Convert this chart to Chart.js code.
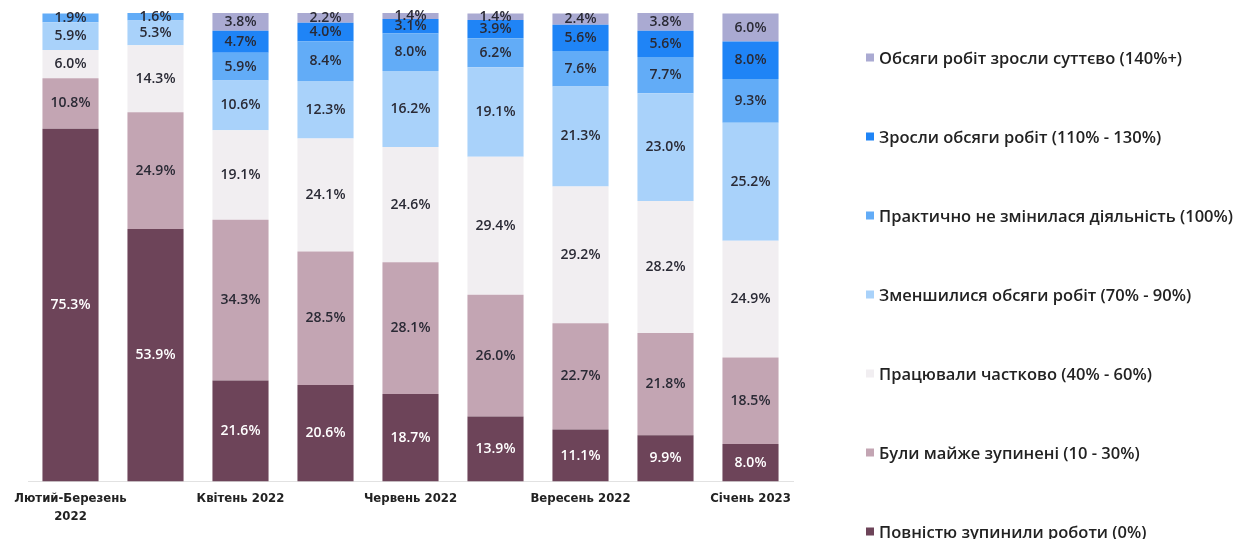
<!DOCTYPE html>
<html lang="uk">
<head>
<meta charset="utf-8">
<script src="https://cdn.jsdelivr.net/npm/chart.js@4.4.1/dist/chart.umd.min.js"></script>
<style>
  html, body { margin: 0; padding: 0; background: #fff; }
  #wrap { position: relative; width: 1239px; height: 539px; }
  #legend {
    position: absolute; left: 866px; top: 57px;
    font-family: "Open Sans", sans-serif; font-weight: 600; font-size: 16.5px; color: #222;
  }
  .item { position: absolute; left: 0; white-space: nowrap; transform: translateY(-50%); display: flex; align-items: center; }
  .sw { width: 8px; height: 8px; margin-right: 5px; display: inline-block; }
</style>
</head>
<body>
<div id="wrap">
  <canvas id="chart" width="1239" height="539"></canvas>
  <div id="legend"></div>
</div>
<script>
// Categories (only every other label is printed on the axis)
const categories = [
    ['Лютий-Березень', '2022'], 'Березень 2022', 'Квітень 2022', 'Травень 2022',
    'Червень 2022', 'Липень 2022', 'Вересень 2022', 'Листопад 2022', 'Січень 2023'
];

const seriesNames = [
    'Повністю зупинили роботи (0%)',
    'Були майже зупинені  (10 - 30%)',
    'Працювали частково (40% - 60%)',
    'Зменшилися обсяги робіт (70% - 90%)',
    'Практично не змінилася діяльність (100%)',
    'Зросли обсяги робіт (110% - 130%)',
    'Обсяги робіт зросли суттєво (140%+)'
];

const stopped   = [75.3, 53.9, 21.6, 20.6, 18.7, 13.9, 11.1, 9.9, 8.0];
const almost    = [10.8, 24.9, 34.3, 28.5, 28.1, 26.0, 22.7, 21.8, 18.5];
const partly    = [6.0, 14.3, 19.1, 24.1, 24.6, 29.4, 29.2, 28.2, 24.9];
const decreased = [5.9, 5.3, 10.6, 12.3, 16.2, 19.1, 21.3, 23.0, 25.2];
const unchanged = [1.9, 1.6, 5.9, 8.4, 8.0, 6.2, 7.6, 7.7, 9.3];
const grew      = [0, 0, 4.7, 4.0, 3.1, 3.9, 5.6, 5.6, 8.0];
const grewMuch  = [0, 0, 3.8, 2.2, 1.4, 1.4, 2.4, 3.8, 6.0];

const colors = ['#6d4459', '#c3a5b3', '#f1eef1', '#a9d2fa', '#62acf7', '#1f84f6', '#aaaad2'];
const series = [stopped, almost, partly, decreased, unchanged, grew, grewMuch];

const segmentLabels = {
    id: 'segmentLabels',
    afterDatasetsDraw(chart) {
        const ctx = chart.ctx;
        ctx.save();
        ctx.textAlign = 'center';
        ctx.textBaseline = 'middle';
        ctx.font = '600 14px "Open Sans", sans-serif';
        chart.data.datasets.forEach((ds, di) => {
            chart.getDatasetMeta(di).data.forEach((bar, i) => {
                const v = ds.data[i];
                if (!v) return;
                const p = bar.getProps(['x', 'y', 'base'], true);
                ctx.fillStyle = di === 0 ? '#ffffff' : '#2a2a35';
                ctx.fillText(v.toFixed(1) + '%', p.x, (p.y + p.base) / 2);
            });
        });
        ctx.restore();
    }
};

new Chart(document.getElementById('chart'), {
    type: 'bar',
    data: {
        labels: categories,
        datasets: series.map((d, i) => ({
            label: seriesNames[i],
            data: d,
            backgroundColor: colors[i],
            barPercentage: 0.66,
            categoryPercentage: 1
        }))
    },
    options: {
        responsive: false,
        animation: false,
        layout: { padding: { left: 28, right: 446, top: 13, bottom: 13 } },
        plugins: { legend: { display: false }, tooltip: { enabled: false } },
        scales: {
            x: {
                stacked: true,
                grid: { display: false },
                border: { color: '#e2e2e2' },
                ticks: {
                    color: '#222',
                    font: { family: '"DejaVu Sans Condensed", "Roboto", sans-serif', size: 13, weight: 'bold', lineHeight: 1.4 },
                    maxRotation: 0,
                    autoSkip: false,
                    padding: 0,
                    callback: function (value, index) {
                        return index % 2 === 0 ? this.getLabelForValue(value) : '';
                    }
                }
            },
            y: { stacked: true, display: false, min: 0, max: 100 }
        }
    },
    plugins: [segmentLabels]
});

// Legend, top entry first
const legend = document.getElementById('legend');
const step = 79;
seriesNames.slice().reverse().forEach((name, k) => {
    const idx = seriesNames.length - 1 - k;
    const el = document.createElement('div');
    el.className = 'item';
    el.style.top = (k * step) + 'px';
    el.innerHTML = '<span class="sw" style="background:' + colors[idx] + '"></span>' + name;
    legend.appendChild(el);
});
</script>
</body>
</html>
